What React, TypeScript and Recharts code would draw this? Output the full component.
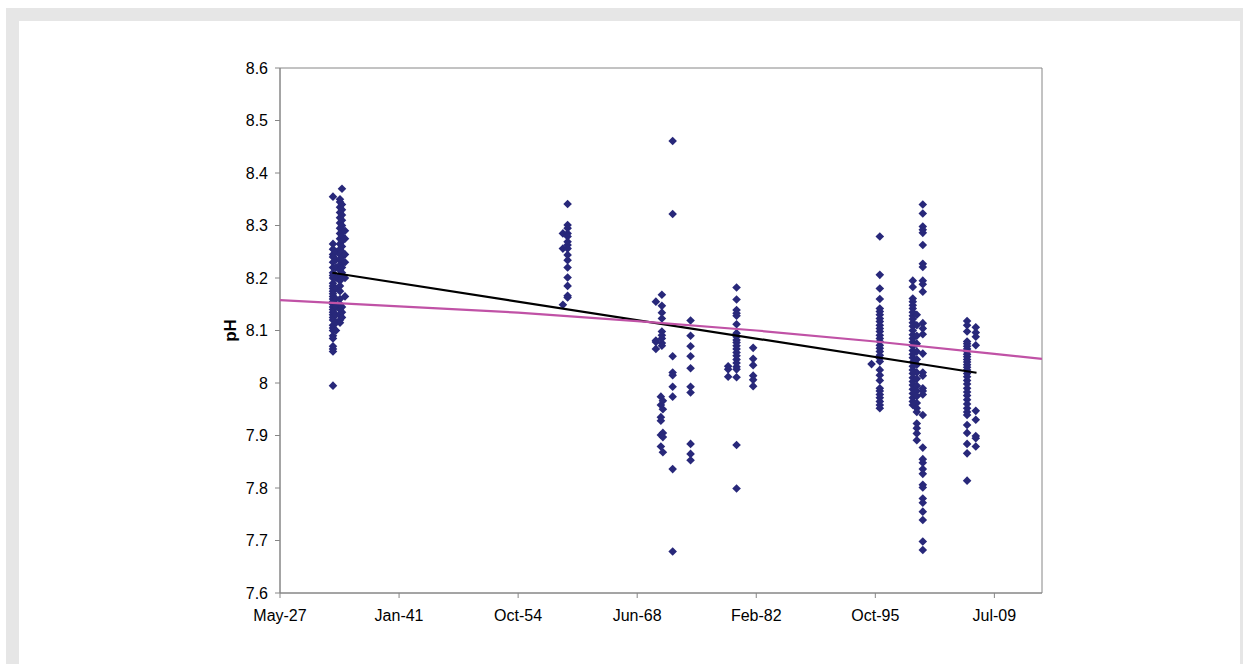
import { ScatterChart, Scatter, XAxis, YAxis, ReferenceArea } from "recharts";

// x values are Excel date serials (days since 1899-12-30)
const xTicks = [10000, 15000, 20000, 25000, 30000, 35000, 40000];
const yTicks = [7.6, 7.7, 7.8, 7.9, 8.0, 8.1, 8.2, 8.3, 8.4, 8.5, 8.6];
const MONTHS = ["Jan", "Feb", "Mar", "Apr", "May", "Jun", "Jul", "Aug", "Sep", "Oct", "Nov", "Dec"];

// sample dates (one per sampling column)
const sampleDates = [
  12225, 12351, 12519, 12603, 12729,
  21880, 22078,
  25785, 25995, 26037, 26079, 26490, 27242,
  28820, 29173, 29870,
  34842, 35189, 36574, 36742, 36994, 38854, 39219,
];

const ph1933a = [8.355, 8.265, 8.255, 8.245, 8.24, 8.23, 8.22, 8.21, 8.205, 8.2, 8.19, 8.185, 8.18, 8.175, 8.17, 8.165, 8.16, 8.155, 8.15, 8.145, 8.14, 8.135, 8.13, 8.125, 8.12, 8.11, 8.105, 8.1, 8.09, 8.085, 8.07, 8.065, 8.06, 7.995];
const ph1933b = [8.25, 8.235, 8.22, 8.2, 8.18, 8.16, 8.145, 8.13, 8.115, 8.1];
const ph1934a = [8.35, 8.345, 8.335, 8.325, 8.315, 8.305, 8.295, 8.285, 8.275, 8.265, 8.255, 8.245, 8.235, 8.225, 8.215, 8.205, 8.195, 8.185, 8.175, 8.16, 8.15, 8.14, 8.13, 8.12, 8.115];
const ph1934b = [8.37, 8.34, 8.33, 8.32, 8.31, 8.3, 8.29, 8.28, 8.27, 8.26, 8.25, 8.24, 8.23, 8.22, 8.21, 8.145, 8.135, 8.125];
const ph1934c = [8.29, 8.275, 8.245, 8.23, 8.2, 8.165];
const ph1959 = [8.285, 8.256, 8.149];
const ph1960 = [8.341, 8.301, 8.295, 8.285, 8.279, 8.269, 8.263, 8.256, 8.244, 8.234, 8.22, 8.201, 8.185, 8.166, 8.163];
const ph1970a = [8.155, 8.081, 8.065, 8.078];
const ph1971a = [7.974, 7.958, 7.935, 7.928, 7.901, 7.879];
const ph1971b = [8.168, 8.147, 8.134, 8.123, 8.098, 8.091, 8.085, 8.076, 8.071];
const ph1971c = [7.966, 7.95, 7.905, 7.897, 7.868];
const ph1972 = [8.461, 8.322, 8.051, 8.02, 8.015, 7.993, 7.974, 7.836, 7.679];
const ph1974 = [8.119, 8.09, 8.07, 8.051, 8.028, 7.993, 7.982, 7.884, 7.865, 7.853];
const ph1978 = [8.032, 8.026, 8.012];
const ph1979 = [8.182, 8.159, 8.139, 8.133, 8.128, 8.112, 8.095, 8.088, 8.082, 8.077, 8.071, 8.065, 8.058, 8.052, 8.045, 8.038, 8.031, 8.026, 8.011, 7.882, 7.799];
const ph1981 = [8.067, 8.046, 8.034, 8.014, 8.006, 7.994];
const ph1995 = [8.036];
const ph1996 = [8.279, 8.206, 8.18, 8.16, 8.142, 8.136, 8.13, 8.123, 8.117, 8.11, 8.104, 8.098, 8.091, 8.085, 8.079, 8.072, 8.066, 8.06, 8.053, 8.047, 8.041, 8.025, 8.015, 8.005, 7.99, 7.985, 7.978, 7.972, 7.965, 7.958, 7.952];
const ph2000a = [8.195, 8.183, 8.161, 8.155, 8.148, 8.142, 8.135, 8.128, 8.122, 8.115, 8.108, 8.1, 8.092, 8.085, 8.078, 8.07, 8.062, 8.055, 8.048, 8.04, 8.032, 8.025, 8.018, 8.01, 8.003, 7.996, 7.988, 7.98, 7.972, 7.965, 7.958];
const ph2000b = [8.13, 8.11, 8.09, 8.075, 8.06, 8.045, 8.035, 8.02, 8.008, 7.995, 7.985, 7.975, 7.962, 7.952, 7.945, 7.923, 7.914, 7.904, 7.891];
const ph2001 = [8.34, 8.323, 8.298, 8.292, 8.286, 8.263, 8.227, 8.221, 8.195, 8.188, 8.174, 8.114, 8.104, 8.093, 8.056, 8.02, 8.014, 7.99, 7.985, 7.978, 7.939, 7.877, 7.855, 7.848, 7.836, 7.827, 7.806, 7.801, 7.78, 7.772, 7.755, 7.739, 7.698, 7.682];
const ph2006 = [8.118, 8.11, 8.098, 8.079, 8.075, 8.07, 8.065, 8.06, 8.055, 8.05, 8.045, 8.04, 8.035, 8.03, 8.025, 8.018, 8.012, 8.005, 7.998, 7.99, 7.983, 7.976, 7.968, 7.96, 7.952, 7.945, 7.939, 7.92, 7.905, 7.884, 7.866, 7.814];
const ph2007 = [8.106, 8.096, 8.088, 8.072, 7.947, 7.93, 7.899, 7.895, 7.879];

const columns = [
  ph1933a, ph1933b, ph1934a, ph1934b, ph1934c,
  ph1959, ph1960,
  ph1970a, ph1971a, ph1971b, ph1971c, ph1972, ph1974,
  ph1978, ph1979, ph1981,
  ph1995, ph1996, ph2000a, ph2000b, ph2001, ph2006, ph2007,
];

// linear fit through the samples (end points)
const fitX = [12200, 39250];
const fitY = [8.21, 8.0195];
// reference curve
const refX = [10000, 15000, 20000, 25000, 30000, 35000, 40000, 42000];
const refY = [8.158, 8.146, 8.134, 8.118, 8.1, 8.079, 8.0556, 8.046];

const points = columns.flatMap((vals, i) => vals.map((y) => ({ x: sampleDates[i], y })));
const fitLine = fitX.map((x, i) => ({ x, y: fitY[i] }));
const refLine = refX.map((x, i) => ({ x, y: refY[i] }));

const FONT = "'Liberation Sans', Arial, sans-serif";
const AXIS = "#868686";

function fmtDate(s: number) {
  const d = new Date(Date.UTC(1899, 11, 30) + s * 86400000);
  return MONTHS[d.getUTCMonth()] + "-" + String(d.getUTCFullYear() % 100).padStart(2, "0");
}

function fmtPh(v: number) {
  return String(Number(v.toFixed(1)));
}

const Diamond = (props: any) => {
  const { cx, cy } = props;
  const r = 4.3;
  return (
    <polygon
      points={`${cx},${cy - r} ${cx + r},${cy} ${cx},${cy + r} ${cx - r},${cy}`}
      fill="#28287a"
    />
  );
};

const NoDot = () => <g />;

export default function App() {
  return (
    <div>
      <div
        style={{
          position: "absolute",
          left: 6,
          top: 8,
          width: 1237,
          height: 656,
          boxSizing: "border-box",
          borderStyle: "solid",
          borderColor: "#e6e6e6",
          borderWidth: "13px 3px 0 13px",
          background: "#fff",
        }}
      />
      <div style={{ position: "absolute", left: 0, top: 0 }}>
        <ScatterChart
          width={1243}
          height={664}
          margin={{ top: 68, right: 201, bottom: 31, left: 220 }}
        >
          <XAxis
            type="number"
            dataKey="x"
            domain={[10000, 42000]}
            ticks={xTicks}
            tickFormatter={fmtDate}
            allowDataOverflow
            height={40}
            stroke={AXIS}
            tickSize={5}
            tickMargin={12}
            tick={{ fill: "#000", fontSize: 16, fontFamily: FONT }}
          />
          <YAxis
            type="number"
            dataKey="y"
            domain={[7.6, 8.6]}
            ticks={yTicks}
            tickFormatter={fmtPh}
            allowDataOverflow
            width={60}
            stroke={AXIS}
            tickSize={5}
            tickMargin={7}
            tick={{ fill: "#000", fontSize: 16, fontFamily: FONT }}
            label={{
              value: "pH",
              angle: -90,
              position: "insideLeft",
              offset: 10,
              style: { textAnchor: "middle", fontWeight: "bold", fontSize: 17, fontFamily: FONT, fill: "#000" },
            }}
          />
          <ReferenceArea x1={10000} x2={42000} y1={7.6} y2={8.6} fill="none" stroke={AXIS} strokeWidth={1} />
          <Scatter data={points} shape={Diamond} isAnimationActive={false} />
          <Scatter
            data={fitLine}
            line={{ stroke: "#000", strokeWidth: 2.2 }}
            shape={NoDot}
            isAnimationActive={false}
          />
          <Scatter
            data={refLine}
            line={{ stroke: "#c052a6", strokeWidth: 2.2 }}
            lineType="joint"
            shape={NoDot}
            isAnimationActive={false}
          />
        </ScatterChart>
      </div>
    </div>
  );
}
